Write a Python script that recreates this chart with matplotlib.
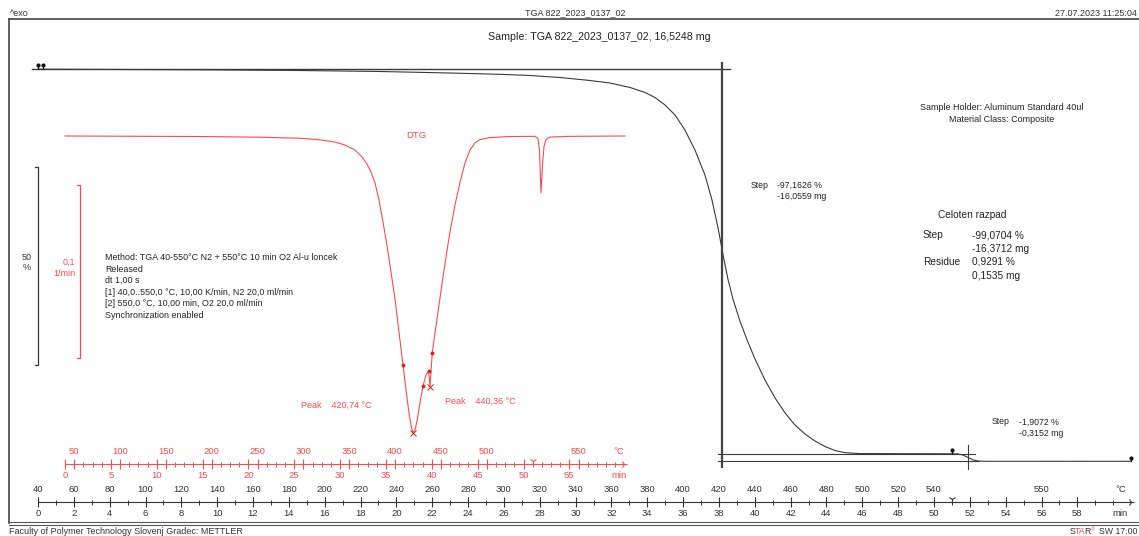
import numpy as np
import matplotlib
matplotlib.use("Agg")
import matplotlib.pyplot as plt
from matplotlib.lines import Line2D

plt.rcParams['font.family'] = ['Liberation Sans', 'DejaVu Sans']

W, H = 1139, 536

# TG curve: time (min) vs mass (%)
tg_time = [0.0, 9.04, 14.62, 19.08, 22.99, 25.78, 27.46, 29.13, 30.80, 31.92, 33.04, 33.87,
           34.43, 34.99, 35.55, 36.10, 36.66, 37.22, 37.61, 37.95, 38.23, 38.50, 38.78, 39.17,
           39.57, 40.01, 40.57, 41.13, 41.69, 42.24, 42.80, 43.36, 43.92, 44.48, 45.03, 45.87,
           50.89, 51.34, 51.62, 51.90, 52.18, 52.46, 52.85, 61.0]
tg_mass = [99.95, 99.80, 99.62, 99.37, 98.99, 98.66, 98.36, 97.85, 97.10, 96.46, 95.33, 94.07,
           92.80, 90.91, 88.38, 84.60, 79.55, 73.23, 66.92, 59.85, 53.03, 46.97, 41.92, 36.36,
           31.57, 26.77, 21.46, 16.92, 13.13, 10.10, 7.83, 6.06, 4.67, 3.66, 3.11, 2.88,
           2.84, 2.80, 2.50, 1.90, 1.30, 1.00, 0.94, 0.93]

# DTG curve: time (min) vs rate (1/min)
dtg_time = [0, 14.72, 21.27, 25.63, 27.81, 29.44, 30.53, 31.62, 32.39, 32.93, 33.37, 33.81,
            34.24, 34.68, 35.12, 35.55, 35.99, 36.42, 36.86, 37.19, 37.51, 37.73, 37.95, 38.17,
            38.39, 38.71, 39.04, 39.37, 39.66, 39.80, 40.05, 40.24, 40.68, 41.11, 41.55, 41.98,
            42.53, 43.08, 43.62, 44.17, 44.71, 45.26, 46.35, 48.53, 51.25, 51.58, 51.74, 51.91,
            52.07, 52.24, 52.45, 52.89, 55.07, 61.07]
dtg_rate = [0, -0.0003, -0.0007, -0.0013, -0.0022, -0.0035, -0.0052, -0.0081, -0.0121, -0.0162,
            -0.0208, -0.0272, -0.0370, -0.0497, -0.0636, -0.0786, -0.0942, -0.1133, -0.1324,
            -0.1468, -0.1601, -0.1671, -0.1717, -0.1699, -0.1647, -0.1543, -0.1445, -0.1382,
            -0.1358, -0.1451, -0.1254, -0.1179, -0.1017, -0.0855, -0.0699, -0.0555, -0.0399,
            -0.0266, -0.0156, -0.0081, -0.0040, -0.0020, -0.0009, -0.0003, -0.0002, -0.0014,
            -0.0081, -0.0330, -0.0168, -0.0058, -0.0020, -0.0006, -0.0002, 0]

dtg_dots_t = [36.86, 39.04, 39.66, 40.05]
dtg_dots_r = [-0.1324, -0.1445, -0.1358, -0.1254]
dtg_peaks_t = [37.95, 39.80]
dtg_peaks_r = [-0.1717, -0.1451]

# axis labels
black_temp_t = list(range(0, 52, 2)) + [56]
black_temp_lab = [str(40 + 10 * t) for t in range(0, 52, 2)] + ['550']
black_min_t = list(range(0, 60, 2))
red_temp_t = list(range(1, 47, 5)) + [56]
red_temp_lab = [str(50 + 50 * i) for i in range(10)] + ['550']
red_min_t = list(range(0, 60, 5))

BLK = '#3a3a3a'
RED = '#ff4a4a'


def fx(px):
    return px / W


def fy(py):
    return 1 - py / H


fig = plt.figure(figsize=(W / 100, H / 100), dpi=100)

# TG axes (px: x = 38 + 17.92 t, y = 69 + (100 - m) * 3.96)
ax = fig.add_axes([0, 0, 1, 1])
ax.set_xlim(-38 / 17.92, (W - 38) / 17.92)
ax.set_ylim(100 - (H - 69) / 3.96, 100 + 69 / 3.96)
ax.axis('off')

# DTG axes (px: x = 65 + 9.17 t, y = 136 - r * 1730)
ax2 = fig.add_axes([0, 0, 1, 1])
ax2.set_xlim(-65 / 9.17, (W - 65) / 9.17)
ax2.set_ylim(-(H - 136) / 1730, 136 / 1730)
ax2.axis('off')
ax2.patch.set_alpha(0)

# frame
fig.add_artist(Line2D([fx(9), 1], [fy(19), fy(19)], color='#444', lw=1.2))
fig.add_artist(Line2D([fx(9), fx(9)], [fy(19), fy(523)], color='#444', lw=1.2))
fig.add_artist(Line2D([fx(9), 1], [fy(522), fy(522)], color='#555', lw=0.8))
fig.add_artist(Line2D([fx(9), 1], [fy(525), fy(525)], color='#555', lw=0.8))

# header / footer
fig.text(fx(10), fy(13), '^exo', fontsize=6.5, va='center', color='#333')
fig.text(fx(575), fy(13), 'TGA 822_2023_0137_02', fontsize=6.5, ha='center', va='center', color='#333')
fig.text(fx(1137), fy(13), '27.07.2023 11:25:04', fontsize=6.5, ha='right', va='center', color='#333')
fig.text(fx(599), fy(37), 'Sample: TGA 822_2023_0137_02, 16,5248 mg', fontsize=7.7, ha='center',
         va='center', color='#222')
fig.text(fx(9), fy(532), 'Faculty of Polymer Technology Slovenj Gradec: METTLER', fontsize=6.5,
         va='center', color='#333')

# "STAR® SW 17.00" with the red letters of the logo
for piece, xp, col in [('S', 1070, '#333'), ('TA', 1075, RED), ('R', 1084.5, '#333')]:
    fig.text(fx(xp), fy(532), piece, fontsize=6.3, va='center', color=col)
fig.text(fx(1090.5), fy(529.5), '®', fontsize=3.8, va='center', color=RED)
fig.text(fx(1137), fy(532), 'SW 17.00', fontsize=6.3, ha='right', va='center', color='#333')

# TG curve and evaluation lines
ax.plot(tg_time, tg_mass, color=BLK, lw=0.8)
ax.plot([-0.33, 38.6], [100, 100], color=BLK, lw=1.0)
ax.plot([38.17, 38.17], [101.5, -0.5], color='#444', lw=1.6)
ax.plot([37.95, 52.3], [2.84, 2.84], color=BLK, lw=0.8)
ax.plot([37.95, 52.5], [0.93, 0.93], color=BLK, lw=0.8)
ax.plot([51.9, 51.9], [5.0, -1.0], color=BLK, lw=0.8)
for tt, m in [(0, 100), (0.28, 100), (51.0, 2.84), (61.0, 0.93)]:
    ax.plot([tt, tt], [m, m + 0.9], color='#111', lw=0.8)
    ax.plot(tt, m + 0.9, 'o', color='#111', ms=2)

# DTG curve
ax2.plot(dtg_time, dtg_rate, color=RED, lw=0.8)
ax2.plot(dtg_dots_t, dtg_dots_r, 'o', color='#e02020', ms=1.8)
ax2.plot(dtg_peaks_t, dtg_peaks_r, 'x', color='#e02020', ms=4, mew=0.7)

# scale brackets
ax.plot([-0.15, 0, 0, -0.15], [75.25, 75.25, 25.25, 25.25], color='#333', lw=0.9)
fig.text(fx(27), fy(257), '50', fontsize=6.5, ha='center', va='center', color='#333')
fig.text(fx(27), fy(268), '%', fontsize=6.5, ha='center', va='center', color='#333')
ax2.plot([1.3, 1.64, 1.64, 1.3], [-0.0283, -0.0283, -0.1283, -0.1283], color=RED, lw=0.9)
fig.text(fx(75), fy(262), '0,1', fontsize=6.5, ha='right', va='center', color=RED)
fig.text(fx(75), fy(273), '1/min', fontsize=6.5, ha='right', va='center', color=RED)


def ruler(a, y_px, minor, top_t, top_lab, bot_t, color, end_t, seg_t):
    tr = a.get_xaxis_transform()
    y = fy(y_px)
    a.plot([0, end_t], [y, y], transform=tr, color=color, lw=0.8)
    a.vlines(minor, y - 2.5 / H, y + 2.5 / H, transform=tr, color=color, lw=0.7)
    a.vlines(sorted(set(top_t) | set(bot_t)), y - 5 / H, y + 5 / H, transform=tr, color=color, lw=0.8)
    for tt, s in zip(top_t, top_lab):
        a.text(tt, fy(y_px - 12), s, transform=tr, ha='center', va='center', fontsize=6.8, color=color)
    for tt in bot_t:
        a.text(tt, fy(y_px + 12), str(tt), transform=tr, ha='center', va='center', fontsize=6.8, color=color)
    a.text(end_t - 0.6, fy(y_px - 12), '°C', transform=tr, ha='center', va='center', fontsize=6.8, color=color)
    a.text(end_t - 0.6, fy(y_px + 12), 'min', transform=tr, ha='center', va='center', fontsize=6.8, color=color)
    a.plot([end_t], [y], marker='4', ms=5, color=color, transform=tr, mew=0.8)
    a.plot([seg_t], [y + 3 / H], marker='1', ms=6, color=color, transform=tr, mew=0.8)


ruler(ax, 502, list(range(1, 61)), black_temp_t, black_temp_lab, black_min_t, '#333', 61.0, 51.0)
ruler(ax2, 464, list(range(0, 61)), red_temp_t, red_temp_lab, red_min_t, RED, 61.0, 51.0)

# annotations
fig.text(fx(416), fy(135), 'DTG', fontsize=6.8, ha='center', va='center', color=RED)
fig.text(fx(301), fy(405), 'Peak    420,74 °C', fontsize=6.5, va='center', color=RED)
fig.text(fx(445), fy(401), 'Peak    440,36 °C', fontsize=6.5, va='center', color=RED)

method = ['Method: TGA 40-550°C N2 + 550°C 10 min O2 Al-u loncek', 'Released', 'dt 1,00 s',
          '[1] 40,0..550,0 °C, 10,00 K/min, N2 20,0 ml/min', '[2] 550,0 °C, 10,00 min, O2 20,0 ml/min',
          'Synchronization enabled']
for i, line in enumerate(method):
    fig.text(fx(105), fy(258 + 11.4 * i), line, fontsize=6.4, va='center', color='#222')

fig.text(fx(1002), fy(107), 'Sample Holder: Aluminum Standard 40ul', fontsize=6.5, ha='center', va='center', color='#222')
fig.text(fx(1002), fy(120), 'Material Class: Composite', fontsize=6.5, ha='center', va='center', color='#222')

fig.text(fx(751), fy(185), 'Step', fontsize=6.3, va='center', color='#222')
fig.text(fx(777), fy(185), '-97,1626 %', fontsize=6.3, va='center', color='#222')
fig.text(fx(777), fy(196), '-16,0559 mg', fontsize=6.3, va='center', color='#222')

fig.text(fx(938), fy(215), 'Celoten razpad', fontsize=7.3, va='center', color='#222')
fig.text(fx(923), fy(235), 'Step', fontsize=7.3, va='center', color='#222')
fig.text(fx(972), fy(235), '-99,0704 %', fontsize=7.3, va='center', color='#222')
fig.text(fx(972), fy(249), '-16,3712 mg', fontsize=7.3, va='center', color='#222')
fig.text(fx(923), fy(262), 'Residue', fontsize=7.3, va='center', color='#222')
fig.text(fx(972), fy(262), '0,9291 %', fontsize=7.3, va='center', color='#222')
fig.text(fx(972), fy(276), '0,1535 mg', fontsize=7.3, va='center', color='#222')

fig.text(fx(992), fy(422), 'Step', fontsize=6.3, va='center', color='#222')
fig.text(fx(1019), fy(422), '-1,9072 %', fontsize=6.3, va='center', color='#222')
fig.text(fx(1019), fy(434), '-0,3152 mg', fontsize=6.3, va='center', color='#222')

fig.savefig('out.png', dpi=100)
